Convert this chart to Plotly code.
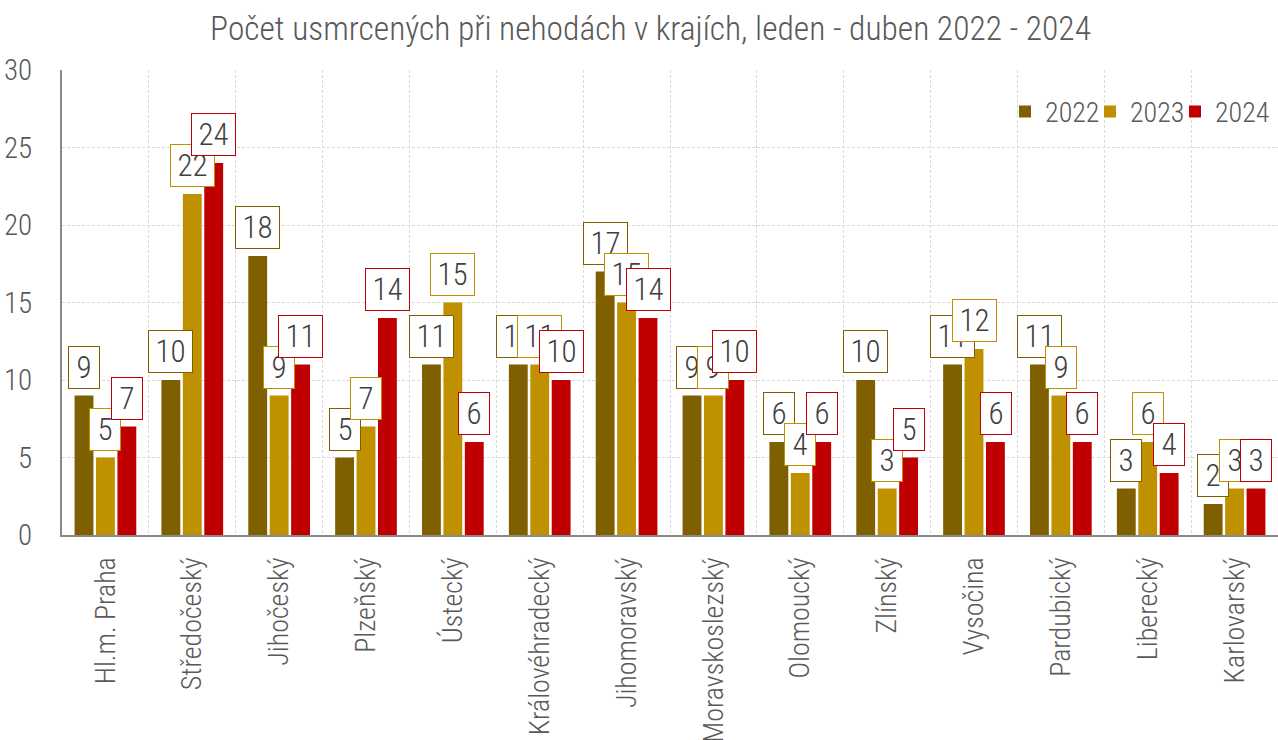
import plotly.graph_objects as go

categories = ["Hl.m. Praha", "Středočeský", "Jihočeský", "Plzeňský", "Ústecký",
              "Královéhradecký", "Jihomoravský", "Moravskoslezský", "Olomoucký",
              "Zlínský", "Vysočina", "Pardubický", "Liberecký", "Karlovarský"]
v2022 = [9, 10, 18, 5, 11, 11, 17, 9, 6, 10, 11, 11, 3, 2]
v2023 = [5, 22, 9, 7, 15, 11, 15, 9, 4, 3, 12, 9, 6, 3]
v2024 = [7, 24, 11, 14, 6, 10, 14, 10, 6, 5, 6, 6, 4, 3]
series_names = ["2022", "2023", "2024"]
colors = ["#7f6000", "#bf9000", "#c00000"]
title = "Počet usmrcených při nehodách v krajích, leden - duben 2022 - 2024"

FONT = "Roboto Condensed, Liberation Sans Narrow, Arial Narrow, sans-serif"
W = 300

fig = go.Figure()
series = [v2022, v2023, v2024]
legend_ids = ["legend", "legend2", "legend3"]
for name, vals, col, lg in zip(series_names, series, colors, legend_ids):
    fig.add_trace(go.Bar(x=categories, y=vals, name=name, marker_color=col,
                         marker_line_width=0, legend=lg))

offsets = [-21.5, 0, 21.5]
for vals, col, off in zip(series, colors, offsets):
    for c, v in zip(categories, vals):
        fig.add_annotation(x=c, y=v, text=str(v), showarrow=False,
                           xanchor="center", yanchor="bottom", xshift=off, yshift=7,
                           width=13 + 13 * len(str(v)),
                           font=dict(family=FONT, size=31, color="#404040", weight=W),
                           bgcolor="white", bordercolor=col, borderwidth=1, borderpad=2)

leg_common = dict(orientation="h", xanchor="left", y=0.91, yanchor="middle",
                  font=dict(family=FONT, size=28, color="#595959", weight=W),
                  bgcolor="rgba(0,0,0,0)", itemwidth=30)

fig.update_layout(
    width=1278, height=740,
    paper_bgcolor="white", plot_bgcolor="white",
    margin=dict(l=62, r=0, t=70, b=205),
    font=dict(family=FONT, color="#595959", weight=W),
    title=dict(text=title, x=0.509, xanchor="center", y=0.962, yanchor="middle",
               font=dict(family=FONT, size=33.5, color="#595959", weight=W)),
    barmode="group", bargap=0.26, bargroupgap=0.12,
    legend=dict(x=0.7755, **leg_common),
    legend2=dict(x=0.8454, **leg_common),
    legend3=dict(x=0.9153, **leg_common),
    showlegend=True,
)
fig.update_xaxes(type="category", tickson="boundaries", showgrid=True,
                 gridcolor="#d9d9d9", griddash="3px,2px", gridwidth=1,
                 showline=True, linecolor="#898989", linewidth=2,
                 tickangle=-90, ticks="", ticklabelstandoff=9, automargin=False,
                 tickfont=dict(family=FONT, size=28, color="#595959", weight=W))
fig.update_yaxes(range=[0, 30], dtick=5, showgrid=True,
                 gridcolor="#d9d9d9", griddash="3px,2px", gridwidth=1,
                 showline=True, linecolor="#898989", linewidth=2,
                 zeroline=False, ticks="", ticklabelstandoff=22, automargin=False,
                 tickfont=dict(family=FONT, size=29, color="#595959", weight=W))

fig.write_html("out.html", config={"displayModeBar": False},
               post_script="document.body.style.margin='0';")
